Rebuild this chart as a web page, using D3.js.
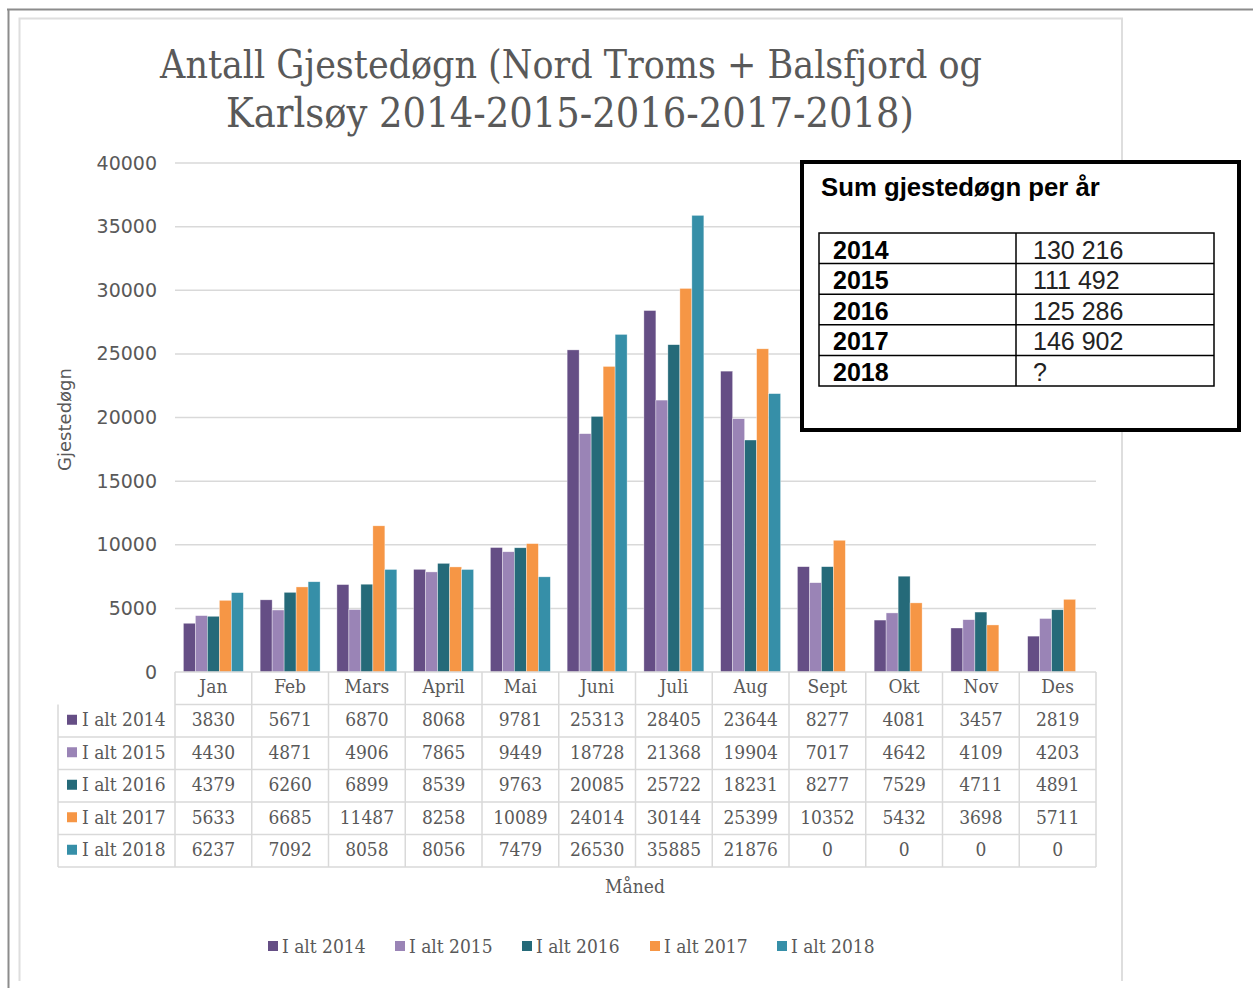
<!DOCTYPE html>
<html>
<head>
<meta charset="utf-8">
<script src="https://cdn.jsdelivr.net/npm/d3@7"></script>
<style>
  body { margin: 0; background: #fff; }
  svg { display: block; }
</style>
</head>
<body>
<svg id="chart"></svg>
<script>
// data
const months = ["Jan", "Feb", "Mars", "April", "Mai", "Juni", "Juli", "Aug", "Sept", "Okt", "Nov", "Des"];
const seriesNames = ["I alt 2014", "I alt 2015", "I alt 2016", "I alt 2017", "I alt 2018"];
const alt2014 = [3830, 5671, 6870, 8068, 9781, 25313, 28405, 23644, 8277, 4081, 3457, 2819];
const alt2015 = [4430, 4871, 4906, 7865, 9449, 18728, 21368, 19904, 7017, 4642, 4109, 4203];
const alt2016 = [4379, 6260, 6899, 8539, 9763, 20085, 25722, 18231, 8277, 7529, 4711, 4891];
const alt2017 = [5633, 6685, 11487, 8258, 10089, 24014, 30144, 25399, 10352, 5432, 3698, 5711];
const alt2018 = [6237, 7092, 8058, 8056, 7479, 26530, 35885, 21876, 0, 0, 0, 0];
const yTicks = [0, 5000, 10000, 15000, 20000, 25000, 30000, 35000, 40000];
const sumYears = ["2014", "2015", "2016", "2017", "2018"];
const sumValues = ["130 216", "111 492", "125 286", "146 902", "?"];

const seriesValues = [alt2014, alt2015, alt2016, alt2017, alt2018];
const colors = ["#654e85", "#9a84b6", "#256a79", "#f69645", "#368fa8"];

const width = 1253, height = 988;
const marginLeft = 175, plotRight = 1096, plotTop = 163, plotBottom = 672;
const serif = "'DejaVu Serif Condensed', 'DejaVu Serif', serif";
const sans = "'DejaVu Sans', sans-serif";
const textGray = "#595959", gridGray = "#d9d9d9";

const svg = d3.select("#chart")
  .attr("width", width)
  .attr("height", height)
  .attr("viewBox", [0, 0, width, height]);

// outer frame + chart border
svg.append("path")
  .attr("d", "M7,9.5H1253M8.5,9.5V988")
  .attr("fill", "none").attr("stroke", "#8c8c8c").attr("stroke-width", 2);
svg.append("path")
  .attr("d", "M19.5,981V18.5H1122V981")
  .attr("fill", "none").attr("stroke", "#dedede").attr("stroke-width", 2);

const xScale = d3.scaleBand(months, [marginLeft, plotRight]).padding(0);
const xInner = d3.scaleBand(d3.range(seriesNames.length), [0, xScale.bandwidth()])
  .paddingInner(0).paddingOuter(0.7);
const yScale = d3.scaleLinear([0, 40000], [plotBottom, plotTop]);

// fit text width to a target by adjusting font-size
function fitWidth(text, target) {
  const size = parseFloat(text.attr("font-size"));
  const w = text.node().getComputedTextLength();
  text.attr("font-size", size * target / w);
}

// title
const title = svg.append("g")
  .attr("fill", textGray)
  .attr("font-family", serif)
  .attr("text-anchor", "middle");
title.append("text").attr("x", 571).attr("y", 78).attr("font-size", 40)
  .text("Antall Gjestedøgn (Nord Troms + Balsfjord og")
  .call(t => fitWidth(t, 822));
title.append("text").attr("x", 570).attr("y", 127).attr("font-size", 40)
  .text("Karlsøy 2014-2015-2016-2017-2018)")
  .call(t => fitWidth(t, 688));

// y axis
const yAxis = svg.append("g")
  .attr("transform", `translate(${marginLeft},0)`)
  .call(d3.axisLeft(yScale).tickValues(yTicks).tickFormat(d3.format("d")).tickSize(0).tickPadding(18))
  .call(g => g.select(".domain").remove());
yAxis.selectAll(".tick text")
  .attr("fill", textGray).attr("font-family", sans).attr("font-size", 19);

svg.append("g")
  .selectAll("line")
  .data(yTicks.filter(d => d > 0))
  .join("line")
    .attr("x1", marginLeft).attr("x2", plotRight)
    .attr("y1", d => yScale(d)).attr("y2", d => yScale(d))
    .attr("stroke", gridGray).attr("stroke-width", 1.5);

svg.append("text")
  .attr("transform", `translate(71,${(plotTop + plotBottom) / 2 + 2}) rotate(-90)`)
  .attr("text-anchor", "middle")
  .attr("fill", textGray).attr("font-family", sans).attr("font-size", 18)
  .text("Gjestedøgn");

// bars
const bars = svg.append("g");
seriesValues.forEach((vals, s) => {
  bars.append("g")
    .selectAll("rect")
    .data(vals)
    .join("rect")
      .attr("x", (d, i) => xScale(months[i]) + xInner(s))
      .attr("y", d => yScale(d))
      .attr("width", xInner.bandwidth())
      .attr("height", d => yScale(0) - yScale(d))
      .attr("fill", colors[s])
      .attr("stroke", "#fff").attr("stroke-width", 0.6).attr("stroke-opacity", 0.6);
});

// data table
const tableLeft = 58;
const rows = ["header", ...seriesNames];
const yRow = d3.scaleBand(rows, [plotBottom, 867]);
const table = svg.append("g")
  .attr("font-family", serif).attr("fill", textGray);

const grid = table.append("g").attr("stroke", gridGray).attr("stroke-width", 1.5).attr("fill", "none");
// horizontal lines
rows.forEach((r, i) => {
  grid.append("line")
    .attr("x1", i === 0 ? marginLeft : tableLeft).attr("x2", plotRight)
    .attr("y1", yRow(r) + yRow.bandwidth()).attr("y2", yRow(r) + yRow.bandwidth());
});
grid.append("line").attr("x1", marginLeft).attr("x2", plotRight)
  .attr("y1", plotBottom).attr("y2", plotBottom);
// vertical lines
grid.append("line").attr("x1", tableLeft).attr("x2", tableLeft)
  .attr("y1", yRow(seriesNames[0])).attr("y2", 867);
months.forEach(m => {
  grid.append("line").attr("x1", xScale(m)).attr("x2", xScale(m))
    .attr("y1", plotBottom).attr("y2", 867);
});
grid.append("line").attr("x1", plotRight).attr("x2", plotRight)
  .attr("y1", plotBottom).attr("y2", 867);

table.append("g")
  .selectAll("text")
  .data(months)
  .join("text")
    .attr("x", d => xScale(d) + xScale.bandwidth() / 2)
    .attr("y", yRow("header") + yRow.bandwidth() / 2 - 2)
    .attr("dy", "0.35em")
    .attr("text-anchor", "middle").attr("font-size", 19)
    .text(d => d);

seriesNames.forEach((name, s) => {
  const cy = yRow(name) + yRow.bandwidth() / 2 - 1;
  table.append("rect")
    .attr("x", 67).attr("y", cy - 5).attr("width", 10).attr("height", 10)
    .attr("fill", colors[s]);
  table.append("text")
    .attr("x", 82).attr("y", cy).attr("dy", "0.35em")
    .attr("font-size", 19)
    .text(name);
  table.append("g")
    .selectAll("text")
    .data(seriesValues[s])
    .join("text")
      .attr("x", (d, i) => xScale(months[i]) + xScale.bandwidth() / 2)
      .attr("y", cy).attr("dy", "0.35em")
      .attr("text-anchor", "middle").attr("font-size", 19)
      .text(d => d);
});

svg.append("text")
  .attr("x", 635).attr("y", 886).attr("dy", "0.35em")
  .attr("text-anchor", "middle")
  .attr("fill", textGray).attr("font-family", serif).attr("font-size", 19)
  .text("Måned");

// legend
const legendX = [268, 395, 522, 650, 777];
const legend = svg.append("g").attr("font-family", serif).attr("fill", textGray);
seriesNames.forEach((name, s) => {
  legend.append("rect")
    .attr("x", legendX[s]).attr("y", 941).attr("width", 10).attr("height", 10)
    .attr("fill", colors[s]);
  legend.append("text")
    .attr("x", legendX[s] + 14).attr("y", 946).attr("dy", "0.35em")
    .attr("font-size", 19)
    .text(name);
});

// overlay box: sum per year
const box = svg.append("g").attr("font-family", "'Liberation Sans', Arial, sans-serif").attr("fill", "#000");
box.append("rect")
  .attr("x", 802).attr("y", 162).attr("width", 437).attr("height", 268)
  .attr("fill", "#fff").attr("stroke", "#000").attr("stroke-width", 4);
box.append("text")
  .attr("x", 821).attr("y", 196)
  .attr("font-size", 22).attr("font-weight", "bold")
  .text("Sum gjestedøgn per år")
  .call(t => fitWidth(t, 279));

const sumRow = d3.scaleBand(sumYears, [233, 386]);
const sumTable = box.append("g");
sumTable.append("rect")
  .attr("x", 819).attr("y", 233).attr("width", 395).attr("height", 153)
  .attr("fill", "none").attr("stroke", "#000").attr("stroke-width", 1.5);
sumTable.append("line")
  .attr("x1", 1016).attr("x2", 1016).attr("y1", 233).attr("y2", 386)
  .attr("stroke", "#000").attr("stroke-width", 1.5);
sumYears.slice(1).forEach(yr => {
  sumTable.append("line")
    .attr("x1", 819).attr("x2", 1214).attr("y1", sumRow(yr)).attr("y2", sumRow(yr))
    .attr("stroke", "#000").attr("stroke-width", 1.5);
});
sumYears.forEach((yr, i) => {
  const base = sumRow(yr) + sumRow.bandwidth() - 5;
  sumTable.append("text")
    .attr("x", 833).attr("y", base)
    .attr("font-size", 25).attr("font-weight", "bold")
    .text(yr);
  sumTable.append("text")
    .attr("x", 1033).attr("y", base)
    .attr("font-size", 25).attr("fill", "#222")
    .text(sumValues[i]);
});
</script>
</body>
</html>
